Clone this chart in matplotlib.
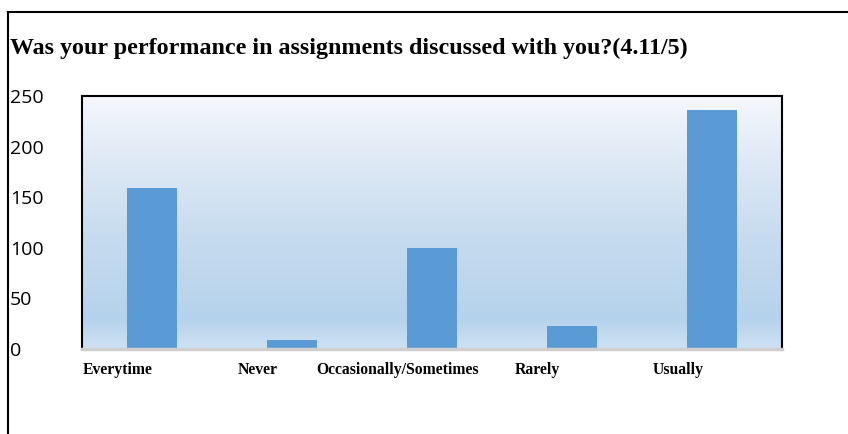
import numpy as np
import matplotlib.pyplot as plt
from matplotlib.colors import LinearSegmentedColormap
from matplotlib.lines import Line2D

# Data
categories = ["Everytime", "Never", "Occasionally/Sometimes", "Rarely", "Usually"]
counts = [159, 9, 100, 23, 236]
yticks = [0, 50, 100, 150, 200, 250]
title = "Was your performance in assignments discussed with you?(4.11/5)"

fig = plt.figure(figsize=(8.48, 4.34), dpi=100)
W, H = 848, 434
ax = fig.add_axes([82 / W, 1 - 349 / H, 700 / W, 253 / H])

# gradient background (bottom -> top)
grad = LinearSegmentedColormap.from_list(
    "bg", [(0.0, "#cfe2f2"), (0.12, "#b5d2ec"), (0.45, "#c7dcef"),
           (0.8, "#e3ecf7"), (1.0, "#f5f8fc")])
ax.imshow(np.linspace(0, 1, 256).reshape(-1, 1), aspect="auto", cmap=grad,
          extent=[-0.5, 4.5, 0, 250], origin="lower", zorder=0)

x = np.arange(len(categories))
ax.bar(x, counts, width=50 / 140, color="#5b9bd5", zorder=2)

ax.set_xlim(-0.5, 4.5)
ax.set_ylim(0, 250)
ax.set_xticks([])
ax.set_yticks(yticks)
ax.set_yticklabels([str(v) for v in yticks], fontsize=14, family="Open Sans")
ax.tick_params(axis="y", length=0, pad=51.8)
for lab in ax.get_yticklabels():
    lab.set_horizontalalignment("left")

for side in ["top", "left", "right"]:
    ax.spines[side].set_color("black")
    ax.spines[side].set_linewidth(1.5)
ax.spines["bottom"].set_color("#cfcfcf")
ax.spines["bottom"].set_linewidth(2.5)

# category labels, sitting a bit left of the bar centres
for i, c in enumerate(categories):
    ax.text(i - 0.245, -21, c, ha="center", va="center", fontsize=11.3,
            family="Liberation Serif", fontweight="bold")

fig.text(10 / W, 1 - 48 / H, title, ha="left", va="center", fontsize=17.3,
         family="Liberation Serif", fontweight="bold")

# outer frame (top and left edges)
fig.add_artist(Line2D([8 / W, 8 / W], [0, 1 - 12 / H], color="black", lw=1.5,
                      transform=fig.transFigure))
fig.add_artist(Line2D([8 / W, 1], [1 - 12 / H, 1 - 12 / H], color="black", lw=1.5,
                      transform=fig.transFigure))

fig.savefig("out.png", dpi=100)
